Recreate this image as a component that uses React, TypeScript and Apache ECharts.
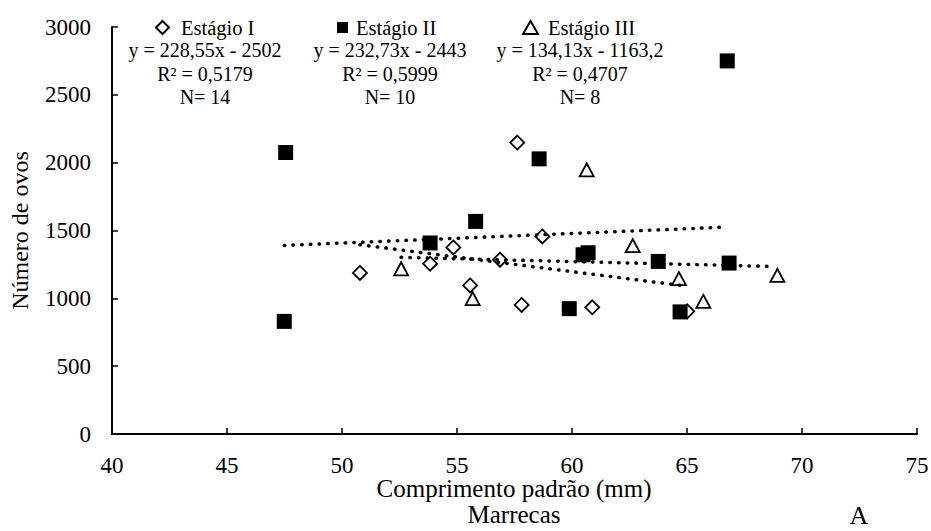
import React, { useEffect, useRef } from "react";
import * as echarts from "echarts";

// Estágio I (open diamonds)
const stage1X = [50.78, 53.83, 54.84, 55.57, 56.87, 57.62, 57.81, 58.71, 60.88, 65.01];
const stage1Y = [1187, 1255, 1375, 1095, 1285, 2148, 951, 1456, 934, 904];
// Estágio II (filled squares)
const stage2X = [47.55, 47.49, 53.83, 55.81, 58.57, 59.88, 60.48, 60.7, 63.75, 64.7, 66.83, 66.75];
const stage2Y = [2075, 830, 1408, 1567, 2028, 924, 1321, 1336, 1272, 900, 1260, 2750];
// Estágio III (open triangles)
const stage3X = [52.57, 55.68, 60.64, 62.64, 64.65, 65.71, 68.93];
const stage3Y = [1218, 998, 1947, 1388, 1145, 978, 1169];

// Trend lines (endpoints as drawn)
const trend1X = [50.78, 64.84];
const trend1Y = [1395, 1093];
const trend2X = [47.49, 66.65];
const trend2Y = [1390, 1525];
const trend3X = [52.57, 68.68];
const trend3Y = [1302, 1235];

const seriesNames = ["Estágio I", "Estágio II", "Estágio III"];
const equations = ["y = 228,55x - 2502", "y = 232,73x - 2443", "y = 134,13x - 1163,2"];
const rSquared = ["R² = 0,5179", "R² = 0,5999", "R² = 0,4707"];
const counts = ["N= 14", "N= 10", "N= 8"];

const xTitle = "Comprimento padrão (mm)";
const subTitle = "Marrecas";
const yTitle = "Número de ovos";
const panelLabel = "A";

const FONT = "'Liberation Serif', 'Times New Roman', serif";

const zip = (xs: number[], ys: number[]) => xs.map((x, i) => [x, ys[i]]);

export default function App() {
  const ref = useRef<HTMLDivElement>(null);
  useEffect(() => {
    if (!ref.current) return;
    const chart = echarts.init(ref.current, undefined, { renderer: "svg" });
    const colCenters = [205, 390, 580];
    const rowY = [50, 74, 97];
    const graphics: any[] = [];
    [equations, rSquared, counts].forEach((row, r) => {
      row.forEach((t, c) => {
        graphics.push({
          type: "text",
          x: colCenters[c],
          y: rowY[r],
          style: {
            text: t,
            fontFamily: FONT,
            fontSize: 20,
            fill: "#000",
            textAlign: "center",
            textVerticalAlign: "middle",
          },
        });
      });
    });
    const bottomTexts = [
      { text: xTitle, x: 514, y: 488, size: 25 },
      { text: subTitle, x: 514, y: 514, size: 25 },
      { text: panelLabel, x: 859, y: 515, size: 26 },
    ];
    bottomTexts.forEach((b) => {
      graphics.push({
        type: "text",
        x: b.x,
        y: b.y,
        style: {
          text: b.text,
          fontFamily: FONT,
          fontSize: b.size,
          fill: "#000",
          textAlign: "center",
          textVerticalAlign: "middle",
        },
      });
    });
    const legendText = { fontFamily: FONT, fontSize: 20.5, color: "#000" };
    const dotted = { color: "#000", width: 3.5, type: [0.5, 8.2], cap: "round" };
    const plain = (v: number) => String(v);
    chart.setOption({
      animation: false,
      backgroundColor: "#fff",
      textStyle: { fontFamily: FONT, color: "#000" },
      grid: { left: 112, right: 14, top: 27, bottom: 97, containLabel: false, outerBoundsMode: "none" },
      legend: [
        {
          data: [seriesNames[0]],
          left: 155,
          top: 17,
          padding: 0,
          itemWidth: 13,
          itemHeight: 13,
          textStyle: { ...legendText, padding: [0, 0, 0, 7] },
        },
        {
          data: [seriesNames[1]],
          left: 337,
          top: 17,
          padding: 0,
          itemWidth: 11,
          itemHeight: 11,
          textStyle: { ...legendText, padding: [0, 0, 0, 3] },
        },
        {
          data: [seriesNames[2]],
          left: 522,
          top: 17,
          padding: 0,
          itemWidth: 15,
          itemHeight: 13,
          textStyle: { ...legendText, padding: [0, 0, 0, 5] },
        },
      ],
      xAxis: {
        type: "value",
        min: 40,
        max: 75,
        interval: 5,
        axisLine: { show: true, onZero: false, lineStyle: { color: "#000", width: 2 } },
        axisTick: { show: true, inside: true, length: 6, lineStyle: { color: "#000", width: 1.5 } },
        axisLabel: { fontFamily: FONT, fontSize: 23, color: "#000", margin: 20, formatter: plain },
        splitLine: { show: false },
      },
      yAxis: {
        type: "value",
        min: 0,
        max: 3000,
        interval: 500,
        name: yTitle,
        nameLocation: "middle",
        nameGap: 80,
        nameTextStyle: { fontFamily: FONT, fontSize: 24, color: "#000" },
        axisLine: { show: true, lineStyle: { color: "#000", width: 2 } },
        axisTick: { show: true, inside: true, length: 6, lineStyle: { color: "#000", width: 1.5 } },
        axisLabel: { fontFamily: FONT, fontSize: 23, color: "#000", margin: 21, formatter: plain },
        splitLine: { show: false },
      },
      graphic: graphics,
      series: [
        {
          name: seriesNames[0],
          type: "scatter",
          symbol: "diamond",
          symbolSize: 14,
          itemStyle: { color: "#fff", borderColor: "#000", borderWidth: 1.8, opacity: 1 },
          data: zip(stage1X, stage1Y),
          z: 2,
        },
        {
          name: seriesNames[1],
          type: "scatter",
          symbol: "rect",
          symbolSize: 15,
          itemStyle: { color: "#000", borderColor: "#000", borderWidth: 0, opacity: 1 },
          data: zip(stage2X, stage2Y),
          z: 3,
        },
        {
          name: seriesNames[2],
          type: "scatter",
          symbol: "triangle",
          symbolSize: [14, 13],
          itemStyle: { color: "#fff", borderColor: "#000", borderWidth: 1.8, opacity: 1 },
          data: zip(stage3X, stage3Y),
          z: 4,
        },
        {
          name: "trend I",
          type: "line",
          showSymbol: false,
          symbol: "none",
          lineStyle: dotted,
          data: zip(trend1X, trend1Y),
          z: 5,
          silent: true,
        },
        {
          name: "trend II",
          type: "line",
          showSymbol: false,
          symbol: "none",
          lineStyle: dotted,
          data: zip(trend2X, trend2Y),
          z: 5,
          silent: true,
        },
        {
          name: "trend III",
          type: "line",
          showSymbol: false,
          symbol: "none",
          lineStyle: dotted,
          data: zip(trend3X, trend3Y),
          z: 5,
          silent: true,
        },
      ],
    });
    return () => chart.dispose();
  }, []);
  return (
    <div
      ref={ref}
      style={{ position: "fixed", left: 0, top: 0, width: 931, height: 531, background: "#fff" }}
    />
  );
}
